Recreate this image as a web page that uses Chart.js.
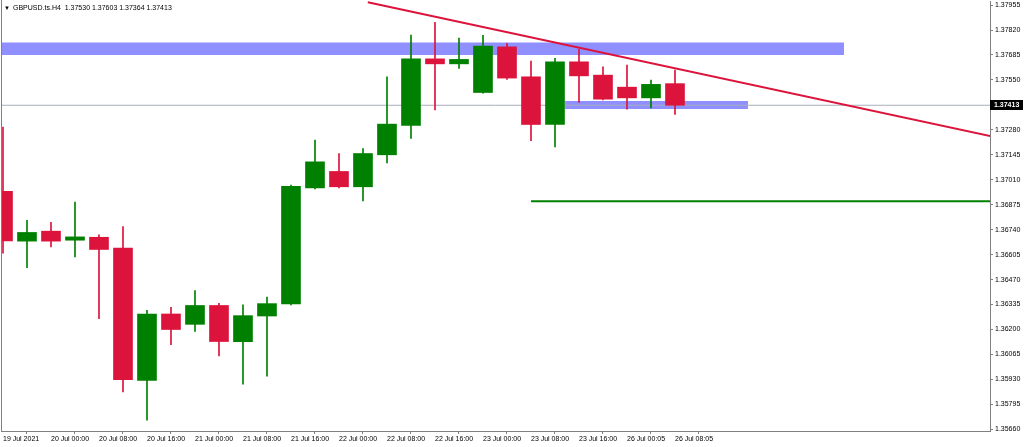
<!DOCTYPE html>
<html>
<head>
<meta charset="utf-8">
<title>GBPUSD.ts.H4</title>
<script src="https://cdn.jsdelivr.net/npm/chart.js@4.4.0/dist/chart.umd.min.js"></script>
<style>
    html, body { margin: 0; padding: 0; background: #ffffff; overflow: hidden; }
    canvas { display: block; }
</style>
</head>
<body>
<canvas id="price-chart" width="1024" height="447"></canvas>
<script>
// Datos de las velas H4 (una cada 4 horas)
const timeLabels = ["19 Jul 2021", "20 Jul 00:00", "20 Jul 08:00", "20 Jul 16:00", "21 Jul 00:00",
    "21 Jul 08:00", "21 Jul 16:00", "22 Jul 00:00", "22 Jul 08:00", "22 Jul 16:00",
    "23 Jul 00:00", "23 Jul 08:00", "23 Jul 16:00", "26 Jul 00:05", "26 Jul 08:05"];

const opens = [1.36948, 1.36678, 1.36732, 1.36683, 1.36699, 1.36640, 1.35924, 1.36284, 1.36228, 1.36330,
    1.36134, 1.36273, 1.36338, 1.36966, 1.37055, 1.36972, 1.37145, 1.37304, 1.37664, 1.37637,
    1.37482, 1.37729, 1.37567, 1.37309, 1.37648, 1.37576, 1.37511, 1.37453, 1.37530];
const highs = [1.37295, 1.36791, 1.36780, 1.36889, 1.36712, 1.36757, 1.36304, 1.36320, 1.36411, 1.36342,
    1.36334, 1.36376, 1.36981, 1.37224, 1.37152, 1.37179, 1.37567, 1.37793, 1.37861, 1.37776,
    1.37791, 1.37748, 1.37652, 1.37667, 1.37715, 1.37621, 1.37630, 1.37549, 1.37603];
const lows = [1.36613, 1.36535, 1.36647, 1.36593, 1.36259, 1.35862, 1.35709, 1.36118, 1.36190, 1.36057,
    1.35904, 1.35947, 1.36333, 1.36960, 1.36966, 1.36896, 1.37101, 1.37233, 1.37388, 1.37612,
    1.37478, 1.37553, 1.37221, 1.37188, 1.37428, 1.37442, 1.37392, 1.37399, 1.37364];
const closes = [1.36679, 1.36725, 1.36678, 1.36701, 1.36633, 1.35929, 1.36284, 1.36200, 1.36330, 1.36135,
    1.36275, 1.36340, 1.36975, 1.37107, 1.36972, 1.37152, 1.37311, 1.37664, 1.37637, 1.37661,
    1.37733, 1.37560, 1.37309, 1.37648, 1.37572, 1.37446, 1.37453, 1.37526, 1.37413];

const priceTicks = [1.35660, 1.35795, 1.35930, 1.36065, 1.36200, 1.36335, 1.36470, 1.36605, 1.36740,
    1.36875, 1.37010, 1.37145, 1.37280, 1.37415, 1.37550, 1.37685, 1.37820, 1.37955];

const symbolName = "GBPUSD.ts.H4";

// Objetos dibujados (x = indice de vela, y = precio)
const resistanceZone = [1.37753, 1.37685];
const resistanceSpan = [-0.2, 35.04];
const supportZone = [1.37436, 1.37393];
const supportSpan = [23.42, 31.04];
const trendX = [15.2, 41.3];
const trendY = [1.37970, 1.37242];
const targetLevel = 1.36894;
const targetSpan = [22, 41.3];

const FONT = '"Liberation Sans", Arial, "DejaVu Sans", sans-serif';
const UP = "#008000";
const DOWN = "#dc143c";
const AXIS_GRAY = "#808080";
const lastIndex = closes.length - 1;
const xMin = -0.083;
const xMax = 41.125;

const bodyData = opens.map((o, i) => ({ x: i, y: [o, closes[i]] }));
const wickData = lows.map((l, i) => ({ x: i, y: [l, highs[i]] }));
const candleColors = opens.map((o, i) => (closes[i] >= o ? UP : DOWN));

// Marco izquierdo, cabecera y etiqueta del precio actual
const overlayPlugin = {
    id: "overlay",
    afterDraw(chart) {
        const ctx = chart.ctx;
        const area = chart.chartArea;
        const yScale = chart.scales.y;

        ctx.save();
        ctx.strokeStyle = AXIS_GRAY;
        ctx.lineWidth = 1;
        ctx.beginPath();
        ctx.moveTo(area.left + 0.5, 0);
        ctx.lineTo(area.left + 0.5, area.bottom);
        ctx.stroke();

        ctx.fillStyle = "#000000";
        ctx.textBaseline = "middle";
        ctx.font = "6px " + FONT;
        ctx.fillText("\u25BC", 4, 8);
        ctx.font = "7px " + FONT;
        const ohlc = [opens[lastIndex], highs[lastIndex], lows[lastIndex], closes[lastIndex]]
            .map((v) => v.toFixed(5)).join(" ");
        ctx.fillText(symbolName + "  " + ohlc, 13, 8);

        const y = yScale.getPixelForValue(closes[lastIndex]);
        ctx.fillStyle = "#000000";
        ctx.fillRect(area.right, Math.round(y) - 5, 33, 10);
        ctx.fillStyle = "#ffffff";
        ctx.font = "bold 7px " + FONT;
        ctx.fillText(closes[lastIndex].toFixed(5), area.right + 4, Math.round(y));
        ctx.restore();
    }
};

const ctx = document.getElementById("price-chart").getContext("2d");
new Chart(ctx, {
    type: "bar",
    data: {
        datasets: [
            {
                type: "line",
                data: [{ x: trendX[0], y: trendY[0] }, { x: trendX[1], y: trendY[1] }],
                borderColor: DOWN,
                borderWidth: 2,
                pointRadius: 0
            },
            {
                type: "line",
                data: [{ x: targetSpan[0], y: targetLevel }, { x: targetSpan[1], y: targetLevel }],
                borderColor: UP,
                borderWidth: 2,
                pointRadius: 0
            },
            {
                data: bodyData,
                backgroundColor: candleColors,
                borderColor: candleColors,
                borderWidth: 0,
                barThickness: 19,
                grouped: false,
                clip: 0
            },
            {
                data: wickData,
                backgroundColor: candleColors,
                borderWidth: 0,
                barThickness: 1,
                grouped: false,
                clip: 0
            },
            {
                type: "line",
                data: [{ x: xMin, y: closes[lastIndex] }, { x: xMax, y: closes[lastIndex] }],
                borderColor: "#a8afbb",
                borderWidth: 1,
                pointRadius: 0
            },
            {
                type: "line",
                data: [{ x: resistanceSpan[0], y: resistanceZone[0] }, { x: resistanceSpan[1], y: resistanceZone[0] }],
                borderColor: "rgba(0,0,0,0)",
                borderWidth: 0,
                pointRadius: 0,
                backgroundColor: "#8f8fff",
                fill: { value: resistanceZone[1] }
            },
            {
                type: "line",
                data: [{ x: supportSpan[0], y: supportZone[0] }, { x: supportSpan[1], y: supportZone[0] }],
                borderColor: "rgba(0,0,0,0)",
                borderWidth: 0,
                pointRadius: 0,
                backgroundColor: "#8f8fff",
                fill: { value: supportZone[1] }
            }
        ]
    },
    options: {
        responsive: false,
        animation: false,
        layout: { padding: { top: 1, left: 1, right: 0, bottom: 0 }, autoPadding: false },
        plugins: {
            legend: { display: false },
            tooltip: { enabled: false }
        },
        scales: {
            x: {
                type: "linear",
                position: "bottom",
                min: xMin,
                max: xMax,
                offset: false,
                afterBuildTicks: (scale) => {
                    scale.ticks = timeLabels.map((t, i) => ({ value: i * 2 }));
                },
                afterFit: (scale) => {
                    scale.height = 16;
                    scale.paddingLeft = 0;
                    scale.paddingRight = 0;
                },
                grid: { display: true, drawOnChartArea: false, drawTicks: true, tickLength: 3, color: AXIS_GRAY },
                border: { display: true, color: AXIS_GRAY },
                ticks: {
                    autoSkip: false,
                    maxRotation: 0,
                    align: "start",
                    padding: 1,
                    color: "#000000",
                    font: { size: 7, family: FONT },
                    callback: (value) => timeLabels[Math.round(value / 2)]
                }
            },
            y: {
                type: "linear",
                position: "right",
                min: 1.35651,
                max: 1.37977,
                afterBuildTicks: (scale) => {
                    scale.ticks = priceTicks.map((v) => ({ value: v }));
                },
                afterFit: (scale) => {
                    scale.width = 34;
                    scale.paddingTop = 0;
                    scale.paddingBottom = 0;
                },
                grid: { display: true, drawOnChartArea: false, drawTicks: true, tickLength: 3, color: AXIS_GRAY },
                border: { display: true, color: AXIS_GRAY },
                ticks: {
                    padding: 2,
                    color: "#000000",
                    font: { size: 7, family: FONT },
                    callback: (value) => Number(value).toFixed(5)
                }
            }
        }
    },
    plugins: [overlayPlugin]
});
</script>
</body>
</html>
